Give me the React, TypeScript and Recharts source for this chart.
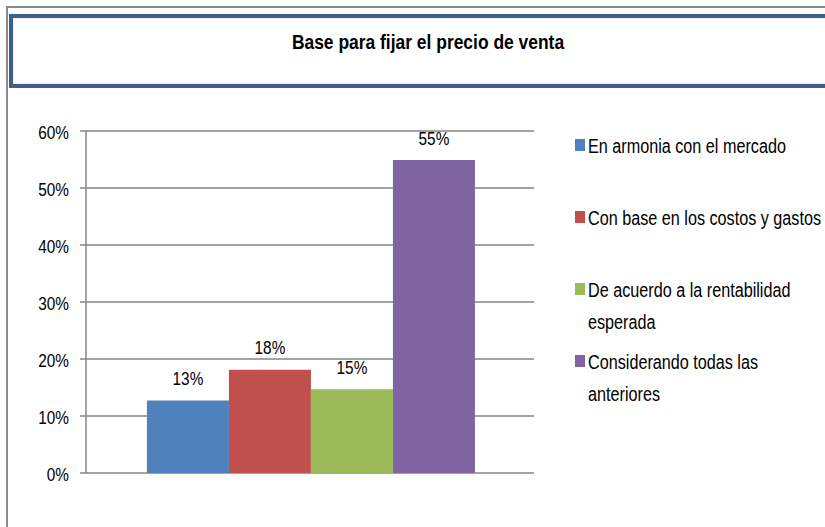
import React from 'react';
import { BarChart, Bar, XAxis, YAxis, CartesianGrid, LabelList } from 'recharts';

const TITLE = 'Base para fijar el precio de venta';
const CATEGORIES = [''];
const SERIES_NAMES = [
  'En armonia con el mercado',
  'Con base en los costos y gastos',
  'De acuerdo a la rentabilidad esperada',
  'Considerando todas las anteriores',
];
const SERIES_VALUES = [12.7, 18.1, 14.7, 54.9];
const Y_TICKS = [0, 10, 20, 30, 40, 50, 60];

const COLORS = ['#4F81BD', '#C0504D', '#9BBB59', '#8064A2'];
const FONT = '"Liberation Sans", Arial, sans-serif';
const SQUEEZE = 0.83; // Calibri-like narrow look
const GRID = '#868686';

const data = CATEGORIES.map((c) => {
  const row: Record<string, string | number> = { name: c };
  SERIES_VALUES.forEach((v, i) => { row[`s${i}`] = v; });
  return row;
});

function YTick({ x, y, payload }: any) {
  return (
    <g transform={`translate(${x},${y})`}>
      <text transform={`scale(${SQUEEZE},1)`} textAnchor="end" dy={8}
        fontFamily={FONT} fontSize={18.5} fill="#000">{`${payload.value}%`}</text>
    </g>
  );
}

function BarLabel({ x, y, width, value }: any) {
  return (
    <g transform={`translate(${Number(x) + Number(width) / 2},${Number(y) - 15.5})`}>
      <text transform={`scale(${SQUEEZE},1)`} textAnchor="middle"
        fontFamily={FONT} fontSize={18.5} fill="#000">{`${Math.round(Number(value))}%`}</text>
    </g>
  );
}

function LegendBox() {
  return (
    <div style={{ position: 'absolute', left: 575, top: 130 }}>
      {SERIES_NAMES.map((n, i) => (
        <div key={n} style={{ position: 'relative', minHeight: 72 }}>
          <span style={{ position: 'absolute', left: 0, top: 9, width: 10, height: 12, background: COLORS[i] }} />
          <div style={{
            marginLeft: 13, width: 289, transform: `scaleX(${SQUEEZE})`, transformOrigin: 'left top',
            fontFamily: FONT, fontSize: 19.5, lineHeight: '32px', color: '#000',
          }}>{n}</div>
        </div>
      ))}
    </div>
  );
}

export default function App() {
  return (
    <div style={{ position: 'fixed', left: 0, top: 0, width: 825, height: 527, background: '#fff', overflow: 'hidden' }}>
      <div style={{ position: 'absolute', left: 6, top: 6, width: 900, height: 600, borderTop: '2px solid #8a8a8a', borderLeft: '2px solid #8a8a8a' }} />
      <div style={{ position: 'absolute', left: 9, top: 14, width: 828, height: 66, border: '4px solid #3E5F8A', boxShadow: 'inset 0 0 2px #B9CDE5' }} />
      <div style={{
        position: 'absolute', left: 9, top: 30, width: 838, textAlign: 'center', transform: `scaleX(${SQUEEZE})`,
        transformOrigin: '419px 0', fontFamily: FONT, fontWeight: 'bold', fontSize: 21, lineHeight: '24px', color: '#000',
      }}>
        {TITLE}
      </div>
      <div style={{ position: 'absolute', left: 0, top: 0 }}>
        <BarChart width={825} height={527} data={data} barGap={0} barCategoryGap="13.6%"
          margin={{ top: 131, right: 291, bottom: 48, left: 16 }}>
          <CartesianGrid vertical={false} stroke={GRID} strokeWidth={1.5} />
          <XAxis dataKey="name" height={0} tick={false} tickLine={false} axisLine={{ stroke: GRID, strokeWidth: 1.5 }} />
          <XAxis xAxisId="edge" type="number" domain={[0, 1]} ticks={[0, 1]} allowDataOverflow height={6}
            tick={false} axisLine={false} tickSize={6} tickLine={{ stroke: GRID, strokeWidth: 1.5 }} />
          <YAxis domain={[0, 60]} ticks={Y_TICKS} width={70} tickSize={6} tickMargin={11}
            tick={<YTick />}
            axisLine={{ stroke: GRID, strokeWidth: 1.5 }} tickLine={{ stroke: GRID, strokeWidth: 1.5 }} />
          {SERIES_NAMES.map((n, i) => (
            <Bar key={n} dataKey={`s${i}`} name={n} fill={COLORS[i]} isAnimationActive={false}>
              <LabelList dataKey={`s${i}`} content={<BarLabel />} />
            </Bar>
          ))}
        </BarChart>
      </div>
      <LegendBox />
    </div>
  );
}
